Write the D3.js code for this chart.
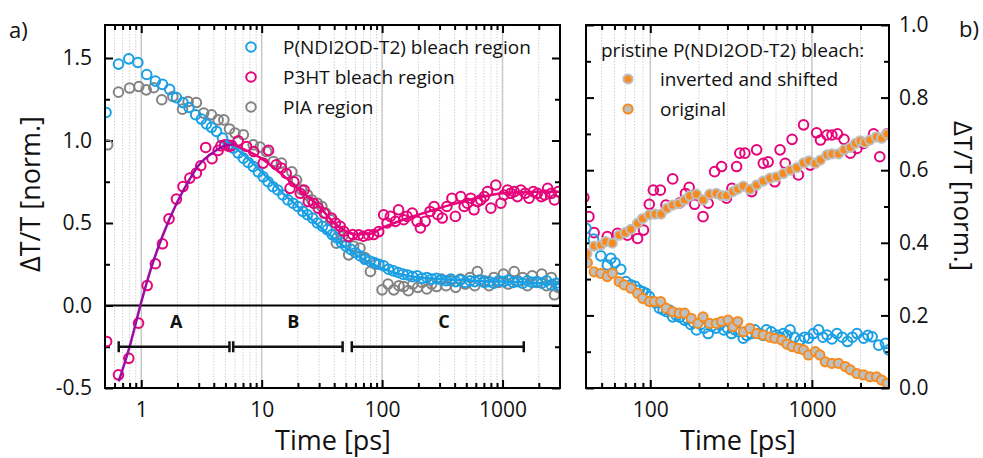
<!DOCTYPE html>
<html>
<head>
<meta charset="utf-8">
<script src="https://cdn.jsdelivr.net/npm/d3@7"></script>
<style>
    body { margin: 0; background: #fff; }
    svg { display: block; font-family: "Open Sans", sans-serif; }
</style>
</head>
<body>
<svg id="chart" width="983" height="458"></svg>
<script>
// ---------- panel a) : time [ps] / dT/T [norm.]
var ndiT = [0.51, 0.647, 0.788, 0.937, 1.11, 1.31, 1.5, 1.72, 1.96, 2.22, 2.49, 2.83, 3.16, 3.48, 3.83, 4.22, 4.73, 5.27, 5.81, 6.38, 7.04, 7.73, 8.5, 9.35,
    10.3, 11.3, 12.4, 13.6, 15, 16.5, 18.2, 20, 22, 24, 26.5, 29, 32, 35, 38.5, 42, 46, 50, 55, 60, 66, 72, 79, 86, 94,
    103, 113, 124, 136, 149, 163, 179, 196, 215, 235, 258, 283, 310, 340, 372, 408, 447, 490, 537, 588, 645, 706, 774, 848, 929,
    1018, 1116, 1223, 1340, 1468, 1609, 1763, 1932, 2117, 2320, 2543, 2787, 2990];
var ndiV = [1.17, 1.463, 1.495, 1.473, 1.40, 1.36, 1.34, 1.31, 1.26, 1.23, 1.20, 1.156, 1.13, 1.10, 1.08, 1.055, 1.015, 0.974, 0.954, 0.924, 0.893, 0.867, 0.842, 0.81,
    0.78, 0.75, 0.72, 0.70, 0.67, 0.64, 0.62, 0.60, 0.57, 0.55, 0.53, 0.50, 0.48, 0.46, 0.43, 0.41, 0.38, 0.36, 0.34, 0.32, 0.30, 0.28, 0.27, 0.26, 0.25,
    0.24, 0.22, 0.21, 0.20, 0.19, 0.185, 0.175, 0.18, 0.165, 0.17, 0.16, 0.165, 0.155, 0.15, 0.16, 0.145, 0.155, 0.14, 0.15, 0.145, 0.155, 0.14, 0.145, 0.135, 0.15,
    0.145, 0.155, 0.14, 0.145, 0.135, 0.15, 0.14, 0.145, 0.135, 0.15, 0.125, 0.135, 0.12];

var piaT = [0.526, 0.647, 0.8, 0.955, 1.1, 1.27, 1.48, 1.83, 2.2, 2.45, 2.87, 3.3, 3.83, 4.35, 4.85, 5.4, 6.0, 7.04, 8.5, 9.7, 11, 12.5, 14.6, 17.8,
    19.5, 21.5, 24, 26, 29, 31.6, 34, 37.4, 41.7, 44, 47, 52.7, 58, 65.5, 72, 79.9, 88, 99.9, 112, 125, 138, 151, 165, 180, 198,
    215, 235, 258, 283, 310, 340, 372, 408, 447, 490, 537, 588, 618, 706, 774, 848, 929, 1018, 1116, 1250, 1340, 1468, 1609, 1763, 1932, 2117, 2320, 2543, 2700, 2900];
var piaV = [0.974, 1.293, 1.318, 1.327, 1.307, 1.32, 1.247, 1.267, 1.19, 1.236, 1.23, 1.166, 1.156, 1.125, 1.125, 1.07, 1.045, 1.035, 0.974, 0.96, 0.933, 0.873, 0.863, 0.81,
    0.76, 0.70, 0.67, 0.64, 0.62, 0.60, 0.56, 0.52, 0.378, 0.45, 0.42, 0.307, 0.36, 0.348, 0.29, 0.206, 0.25, 0.095, 0.13, 0.095, 0.12, 0.115, 0.09, 0.13, 0.11,
    0.14, 0.10, 0.13, 0.115, 0.16, 0.12, 0.15, 0.11, 0.16, 0.13, 0.17, 0.12, 0.206, 0.15, 0.12, 0.17, 0.14, 0.19, 0.13, 0.206, 0.15, 0.17, 0.12, 0.18, 0.14, 0.19, 0.12, 0.17, 0.065, 0.11];

var p3htT = [0.516, 0.647, 0.788, 0.95, 1.12, 1.31, 1.5, 1.7, 1.96, 2.22, 2.53, 2.87, 3.12, 3.43, 3.87, 4.35, 4.58, 4.94, 5.37, 5.62, 6.38, 7.5, 8.6,
    10.3, 11.4, 13.2, 14.6, 16, 17.2, 18.5, 20.9, 22.5, 24.4, 27, 29.5, 33, 38, 41, 44.9, 48, 52.7, 57, 63.8, 70, 77, 85, 93.8,
    103, 110, 117, 129, 137, 151, 161, 178, 195, 208, 228, 250, 270, 290, 316, 345, 380, 406, 450, 480, 510, 545, 580, 620, 660, 705, 750, 800, 880, 970,
    1030, 1100, 1170, 1250, 1330, 1420, 1540, 1660, 1800, 1950, 2100, 2240, 2370, 2540, 2700, 2900];
var p3htV = [-0.218, -0.42, -0.32, -0.107, 0.121, 0.253, 0.374, 0.525, 0.645, 0.721, 0.772, 0.802, 0.847, 0.958, 0.89, 0.94, 0.968, 0.974, 0.964, 0.97, 0.998, 0.964, 0.933,
    0.863, 0.94, 0.853, 0.833, 0.80, 0.71, 0.75, 0.68, 0.70, 0.63, 0.62, 0.59, 0.56, 0.53, 0.50, 0.48, 0.45, 0.418, 0.43, 0.428, 0.42, 0.428, 0.43, 0.448,
    0.55, 0.50, 0.54, 0.51, 0.58, 0.52, 0.54, 0.56, 0.51, 0.47, 0.51, 0.57, 0.60, 0.55, 0.53, 0.60, 0.65, 0.54, 0.66, 0.60, 0.62, 0.65, 0.58, 0.63, 0.64, 0.66, 0.69, 0.59, 0.73, 0.62,
    0.67, 0.70, 0.68, 0.69, 0.66, 0.70, 0.68, 0.65, 0.69, 0.68, 0.66, 0.67, 0.71, 0.68, 0.64, 0.69];

// fitted curves
var riseFitT = [0.65, 0.8, 1.0, 1.2, 1.5, 2, 2.5, 3, 4, 5, 5.8];
var riseFitV = [-0.46, -0.25, 0.02, 0.22, 0.42, 0.63, 0.76, 0.85, 0.93, 0.97, 0.975];
var p3htFitT = [5.8, 8, 10, 15, 20, 30, 40, 50, 60, 80, 100, 150, 200, 370, 600, 1000, 2000, 3000];
var p3htFitV = [0.975, 0.93, 0.89, 0.79, 0.71, 0.60, 0.50, 0.45, 0.43, 0.435, 0.47, 0.52, 0.55, 0.61, 0.65, 0.68, 0.69, 0.69];
var ndiFitT = [5, 8, 10, 15, 20, 30, 50, 70, 100, 150, 300, 1000, 3000];
var ndiFitV = [1.0, 0.88, 0.81, 0.68, 0.60, 0.48, 0.35, 0.28, 0.225, 0.185, 0.16, 0.145, 0.13];

// time windows A, B, C
var winLabels = ["A", "B", "C"];
var winStart = [0.65, 5.8, 56];
var winEnd = [5.4, 47, 1500];
var winLabelT = [1.95, 18.3, 326];

var leftXMajor = [1, 10, 100, 1000];
var leftYMajor = [-0.5, 0, 0.5, 1.0, 1.5];
var leftYMinor = [-0.25, 0.25, 0.75, 1.25];

// ---------- panel b) : 40 ps - 3 ns
var rP3T = [38.8, 41.7, 44.9, 54.2, 62.6, 72.2, 83.4, 90.8, 98.6, 104.4, 115.4, 125, 137.6, 152, 165, 174, 188, 212, 228, 250, 276, 296, 320, 342, 358, 385,
    424, 455, 500, 536, 589, 635, 684, 754, 825, 888, 977, 1070, 1130, 1240, 1330, 1440, 1580, 1730, 1900, 2090, 2410, 2630, 2920];
var rP3V = [0.525, 0.472, 0.428, 0.417, 0.426, 0.421, 0.412, 0.435, 0.506, 0.545, 0.545, 0.504, 0.576, 0.51, 0.536, 0.553, 0.506, 0.472, 0.509, 0.596, 0.61, 0.523, 0.55, 0.61, 0.647, 0.647,
    0.541, 0.656, 0.619, 0.623, 0.568, 0.656, 0.619, 0.685, 0.587, 0.725, 0.614, 0.703, 0.683, 0.697, 0.697, 0.70, 0.685, 0.647, 0.66, 0.674, 0.70, 0.637, 0.70];

var rNdiT = [40, 44.5, 49.4, 54.2, 57, 60.5, 65.7, 70.6, 75.8, 80.5, 85.4, 90, 94, 98.6, 103.4, 108, 113.8, 120, 126, 131, 137.6, 145, 152, 163, 170, 178, 185, 193,
    205, 215, 228, 240, 255, 269, 285, 300, 318, 335, 352, 376, 395, 420, 443, 470, 500, 523, 560, 604, 635, 665, 700, 733, 780, 846, 900, 953,
    1020, 1100, 1170, 1240, 1330, 1430, 1540, 1660, 1780, 1900, 2090, 2220, 2360, 2590, 2850, 2990];
var rNdiV = [0.44, 0.41, 0.364, 0.339, 0.357, 0.345, 0.327, 0.293, 0.284, 0.28, 0.27, 0.265, 0.261, 0.252, 0.238, 0.235, 0.22, 0.215, 0.21, 0.215, 0.196, 0.2, 0.195, 0.187, 0.19, 0.175, 0.18, 0.16,
    0.175, 0.165, 0.15, 0.17, 0.165, 0.174, 0.16, 0.165, 0.15, 0.16, 0.155, 0.137, 0.145, 0.15, 0.16, 0.15, 0.145, 0.16, 0.155, 0.146, 0.14, 0.15, 0.145, 0.16, 0.14, 0.132, 0.14, 0.137,
    0.15, 0.16, 0.14, 0.146, 0.135, 0.15, 0.14, 0.128, 0.14, 0.15, 0.137, 0.145, 0.141, 0.118, 0.123, 0.105];

var invT = [40.5, 44.9, 49.4, 53, 58.2, 64.1, 69.9, 75.8, 83.4, 89.6, 98.6, 107, 116.5, 126.7, 137.6, 150, 163, 175.5, 193, 212, 233, 256, 276, 296, 325, 348, 376,
    413, 455, 500, 550, 604, 665, 733, 807, 888, 960, 1050, 1130, 1240, 1330, 1460, 1580, 1730, 1860, 1990, 2130, 2280, 2510, 2700, 2920];
var invV = [0.37, 0.391, 0.394, 0.403, 0.399, 0.421, 0.428, 0.437, 0.454, 0.467, 0.477, 0.479, 0.479, 0.495, 0.504, 0.508, 0.518, 0.529, 0.534, 0.518, 0.534, 0.536, 0.53, 0.53, 0.541, 0.548, 0.556,
    0.547, 0.559, 0.57, 0.578, 0.582, 0.591, 0.60, 0.607, 0.62, 0.626, 0.619, 0.628, 0.642, 0.645, 0.645, 0.656, 0.663, 0.674, 0.681, 0.676, 0.683, 0.692, 0.688, 0.70];

var origT = [40.8, 44.9, 49.4, 54.2, 58.2, 64.1, 68.9, 75.8, 83.4, 89.6, 98.6, 106, 116, 125, 137.6, 151, 163, 179, 197, 212, 233, 256, 276, 303, 325, 348, 376,
    413, 455, 500, 550, 589, 650, 700, 754, 825, 888, 953, 1050, 1120, 1210, 1330, 1460, 1610, 1730, 1900, 2090, 2290, 2510, 2700, 2920];
var origV = [0.345, 0.32, 0.316, 0.307, 0.316, 0.293, 0.284, 0.275, 0.261, 0.247, 0.238, 0.238, 0.238, 0.22, 0.21, 0.206, 0.206, 0.192, 0.178, 0.196, 0.178, 0.178, 0.183, 0.187, 0.169, 0.183, 0.155,
    0.164, 0.15, 0.146, 0.14, 0.137, 0.132, 0.121, 0.114, 0.109, 0.105, 0.091, 0.10, 0.091, 0.072, 0.068, 0.068, 0.059, 0.05, 0.04, 0.036, 0.031, 0.031, 0.022, 0.013];

var rightXMajor = [100, 1000];
var rightYMajor = [0, 0.2, 0.4, 0.6, 0.8, 1.0];
var rightYMinor = [0.1, 0.3, 0.5, 0.7, 0.9];

var colBlue = "#1b9fe4",
    colPink = "#e5047a",
    colGray = "#838383",
    colPurple = "#9a0ca3",
    colOrange = "#f68b1f",
    colFillGray = "#bfbfbf";

function pts(t, v) {
    return t.map(function (d, i) {
        return {t: d, v: v[i]};
    });
}

// 2..9 x 10^n positions inside a log domain
function logMinor(domain) {
    var out = [];
    var e0 = Math.floor(Math.log10(domain[0])), e1 = Math.ceil(Math.log10(domain[1]));
    for (var e = e0; e <= e1; e++) {
        for (var k = 2; k <= 9; k++) {
            var v = k * Math.pow(10, e);
            if (v > domain[0] * 1.001 && v < domain[1] * 0.999) out.push(v);
        }
    }
    return out;
}

var svg = d3.select("#chart");

// draws grid and ticks of one panel and returns its scales
function panel(cfg) {
    var x = d3.scaleLog().domain(cfg.xDomain).range([cfg.x0, cfg.x1]),
        y = d3.scaleLinear().domain(cfg.yDomain).range([cfg.y1, cfg.y0]);

    var g = svg.append("g");

    g.append("clipPath").attr("id", cfg.id)
        .append("rect")
        .attr("x", cfg.x0).attr("y", cfg.y0)
        .attr("width", cfg.x1 - cfg.x0).attr("height", cfg.y1 - cfg.y0);

    var minorX = logMinor(cfg.xDomain);

    // vertical grid
    g.append("g").selectAll("line")
        .data(minorX)
        .enter().append("line")
        .attr("x1", x).attr("x2", x)
        .attr("y1", cfg.y0).attr("y2", cfg.y1)
        .attr("stroke", "#d2d2d2")
        .attr("stroke-width", 1)
        .attr("stroke-dasharray", "1.5,1.5");
    g.append("g").selectAll("line")
        .data(cfg.xMajor)
        .enter().append("line")
        .attr("x1", x).attr("x2", x)
        .attr("y1", cfg.y0).attr("y2", cfg.y1)
        .attr("stroke", "#c8c8c8")
        .attr("stroke-width", 1.5);

    function styleAxis(a) {
        a.select(".domain").remove();
        a.selectAll("line").attr("stroke", "#000").attr("stroke-width", 2);
        a.selectAll("text").attr("fill", "#111").style("font-size", "21px").style("font-family", "'Open Sans', sans-serif");
    }

    // bottom / top
    g.append("g").attr("transform", "translate(0," + cfg.y1 + ")")
        .call(d3.axisBottom(x).tickValues(cfg.xMajor).tickFormat(d3.format("d"))
            .tickSizeInner(-8).tickSizeOuter(0).tickPadding(14))
        .call(styleAxis);
    g.append("g").attr("transform", "translate(0," + cfg.y1 + ")")
        .call(d3.axisBottom(x).tickValues(minorX).tickFormat("").tickSizeInner(-5).tickSizeOuter(0))
        .call(styleAxis);
    g.append("g").attr("transform", "translate(0," + cfg.y0 + ")")
        .call(d3.axisTop(x).tickValues(cfg.xMajor).tickFormat("").tickSizeInner(-8).tickSizeOuter(0))
        .call(styleAxis);
    g.append("g").attr("transform", "translate(0," + cfg.y0 + ")")
        .call(d3.axisTop(x).tickValues(minorX).tickFormat("").tickSizeInner(-5).tickSizeOuter(0))
        .call(styleAxis);

    // left / right
    var fmt = function (d) { return d.toFixed(1); };
    g.append("g").attr("transform", "translate(" + cfg.x0 + ",0)")
        .call(d3.axisLeft(y).tickValues(cfg.yMajor).tickFormat(cfg.labelSide === "left" ? fmt : "")
            .tickSizeInner(-8).tickSizeOuter(0).tickPadding(13))
        .call(styleAxis);
    g.append("g").attr("transform", "translate(" + cfg.x0 + ",0)")
        .call(d3.axisLeft(y).tickValues(cfg.yMinor).tickFormat("").tickSizeInner(-5).tickSizeOuter(0))
        .call(styleAxis);
    g.append("g").attr("transform", "translate(" + cfg.x1 + ",0)")
        .call(d3.axisRight(y).tickValues(cfg.yMajor).tickFormat(cfg.labelSide === "right" ? fmt : "")
            .tickSizeInner(-8).tickSizeOuter(0).tickPadding(10))
        .call(styleAxis);
    g.append("g").attr("transform", "translate(" + cfg.x1 + ",0)")
        .call(d3.axisRight(y).tickValues(cfg.yMinor).tickFormat("").tickSizeInner(-5).tickSizeOuter(0))
        .call(styleAxis);

    var plot = svg.append("g").attr("clip-path", "url(#" + cfg.id + ")");

    return {x: x, y: y, plot: plot, g: g, cfg: cfg};
}

function frame(p) {
    var c = p.cfg;
    svg.append("rect")
        .attr("x", c.x0).attr("y", c.y0)
        .attr("width", c.x1 - c.x0).attr("height", c.y1 - c.y0)
        .attr("fill", "none").attr("stroke", "#000").attr("stroke-width", 2);
}

function openCircles(p, data, color) {
    p.plot.append("g").selectAll("circle")
        .data(data)
        .enter().append("circle")
        .attr("cx", function (d) { return p.x(d.t); })
        .attr("cy", function (d) { return p.y(d.v); })
        .attr("r", 4.8)
        .attr("fill", "none")
        .attr("stroke", color)
        .attr("stroke-width", 2);
}

function filledCircles(p, data, fill, stroke) {
    p.plot.append("g").selectAll("circle")
        .data(data)
        .enter().append("circle")
        .attr("cx", function (d) { return p.x(d.t); })
        .attr("cy", function (d) { return p.y(d.v); })
        .attr("r", 4.6)
        .attr("fill", fill)
        .attr("stroke", stroke)
        .attr("stroke-width", 2);
}

function fitLine(p, data, color) {
    var line = d3.line()
        .x(function (d) { return p.x(d.t); })
        .y(function (d) { return p.y(d.v); })
        .curve(d3.curveMonotoneX);
    p.plot.append("path")
        .datum(data)
        .attr("d", line)
        .attr("fill", "none")
        .attr("stroke", color)
        .attr("stroke-width", 2.5);
}

// ---------- panel a
var pa = panel({
    id: "clipA", x0: 105, x1: 560, y0: 25, y1: 388,
    xDomain: [0.5, 3000], yDomain: [-0.5, 1.7],
    xMajor: leftXMajor, yMajor: leftYMajor, yMinor: leftYMinor, labelSide: "left"
});

// zero line
pa.plot.append("line")
    .attr("x1", pa.cfg.x0).attr("x2", pa.cfg.x1)
    .attr("y1", pa.y(0)).attr("y2", pa.y(0))
    .attr("stroke", "#000").attr("stroke-width", 2);

openCircles(pa, pts(piaT, piaV), colGray);
openCircles(pa, pts(ndiT, ndiV), colBlue);
openCircles(pa, pts(p3htT, p3htV), colPink);
fitLine(pa, pts(ndiFitT, ndiFitV), colBlue);
fitLine(pa, pts(p3htFitT, p3htFitV), colPink);
fitLine(pa, pts(riseFitT, riseFitV), colPurple);

// time windows
var win = svg.append("g");
winLabels.forEach(function (lab, i) {
    var yy = pa.y(-0.25),
        xa = pa.x(winStart[i]),
        xb = pa.x(winEnd[i]);
    win.append("line").attr("x1", xa).attr("x2", xb).attr("y1", yy).attr("y2", yy)
        .attr("stroke", "#111").attr("stroke-width", 2.5);
    [xa, xb].forEach(function (xx) {
        win.append("line").attr("x1", xx).attr("x2", xx).attr("y1", yy - 5.5).attr("y2", yy + 5.5)
            .attr("stroke", "#111").attr("stroke-width", 2.5);
    });
    win.append("text")
        .attr("x", pa.x(winLabelT[i]))
        .attr("y", pa.y(-0.1))
        .attr("dy", "0.35em")
        .attr("text-anchor", "middle")
        .style("font-size", "18px")
        .style("font-weight", "bold")
        .attr("fill", "#111")
        .text(lab);
});
frame(pa);

// ---------- panel b
var pb = panel({
    id: "clipB", x0: 586, x1: 889, y0: 25, y1: 388,
    xDomain: [40, 3000], yDomain: [0, 1.0],
    xMajor: rightXMajor, yMajor: rightYMajor, yMinor: rightYMinor, labelSide: "right"
});
openCircles(pb, pts(rP3T, rP3V), colPink);
openCircles(pb, pts(rNdiT, rNdiV), colBlue);
filledCircles(pb, pts(invT, invV), colOrange, colFillGray);
filledCircles(pb, pts(origT, origV), colFillGray, colOrange);
frame(pb);

// ---------- legends
var legA = [
    {label: "P(NDI2OD-T2) bleach region", color: colBlue},
    {label: "P3HT bleach region", color: colPink},
    {label: "PIA region", color: colGray}
];
var la = svg.append("g");
legA.forEach(function (d, i) {
    var yy = 47 + i * 30;
    la.append("circle").attr("cx", 251).attr("cy", yy).attr("r", 4.8)
        .attr("fill", "none").attr("stroke", d.color).attr("stroke-width", 2);
    la.append("text").attr("x", 283).attr("y", yy).attr("dy", "0.36em")
        .style("font-size", "19px").attr("fill", "#111").text(d.label);
});

var lb = svg.append("g");
lb.append("text").attr("x", 601).attr("y", 50).attr("dy", "0.36em")
    .style("font-size", "19px").attr("fill", "#111").text("pristine P(NDI2OD-T2) bleach:");
[
    {label: "inverted and shifted", fill: colOrange, stroke: colFillGray},
    {label: "original", fill: colFillGray, stroke: colOrange}
].forEach(function (d, i) {
    var yy = 79 + i * 30;
    lb.append("circle").attr("cx", 628).attr("cy", yy).attr("r", 4.6)
        .attr("fill", d.fill).attr("stroke", d.stroke).attr("stroke-width", 2);
    lb.append("text").attr("x", 660).attr("y", yy).attr("dy", "0.36em")
        .style("font-size", "19px").attr("fill", "#111").text(d.label);
});

// ---------- axis titles
svg.append("text").attr("x", 333).attr("y", 450).attr("text-anchor", "middle")
    .style("font-size", "27px").attr("fill", "#111").text("Time [ps]");
svg.append("text").attr("x", 738).attr("y", 450).attr("text-anchor", "middle")
    .style("font-size", "27px").attr("fill", "#111").text("Time [ps]");
svg.append("text").attr("transform", "translate(40,194) rotate(-90)").attr("text-anchor", "middle")
    .style("font-size", "27px").attr("fill", "#111").text("ΔT/T [norm.]");
svg.append("text").attr("transform", "translate(954,196) rotate(90)").attr("text-anchor", "middle")
    .style("font-size", "26px").attr("fill", "#111").text("ΔT/T [norm.]");

svg.append("text").attr("x", 9).attr("y", 38).style("font-size", "22px").attr("fill", "#111").text("a)");
svg.append("text").attr("x", 959).attr("y", 37).style("font-size", "22px").attr("fill", "#111").text("b)");
</script>
</body>
</html>
